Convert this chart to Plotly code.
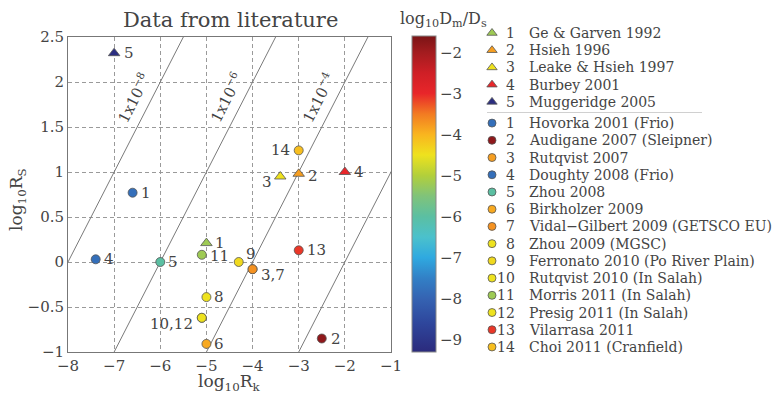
import numpy as np
import plotly.graph_objects as go

W, H = 774, 395

# ---------------- data ----------------
tri_ids = [1, 2, 3, 4, 5]
tri_names = ["Ge & Garven 1992", "Hsieh 1996", "Leake & Hsieh 1997",
             "Burbey 2001", "Muggeridge 2005"]
tri_log_rk = [-5.0, -3.0, -3.4, -2.0, -7.0]
tri_log_rs = [0.21, 0.98, 0.95, 1.0, 2.32]
tri_log_d = [-5.2, -3.8, -4.5, -3.0, -9.2]

circ_ids = list(range(1, 15))
circ_names = ["Hovorka 2001 (Frio)", "Audigane 2007 (Sleipner)", "Rutqvist 2007",
              "Doughty 2008 (Frio)", "Zhou 2008", "Birkholzer 2009",
              "Vidal\u2212Gilbert 2009 (GETSCO EU)", "Zhou 2009 (MGSC)",
              "Ferronato 2010 (Po River Plain)", "Rutqvist 2010 (In Salah)",
              "Morris 2011 (In Salah)", "Presig 2011 (In Salah)",
              "Vilarrasa 2011", "Choi 2011 (Cranfield)"]
circ_log_rk = [-6.6, -2.5, -4.0, -7.4, -6.0, -5.0, -4.0, -5.0, -4.3, -5.1, -5.1, -5.1, -3.0, -3.0]
circ_log_rs = [0.77, -0.85, -0.08, 0.03, 0.0, -0.91, -0.08, -0.39, 0.0, -0.62, 0.08, -0.62, 0.13, 1.24]
circ_log_d = [-7.8, -1.8, -3.8, -7.8, -6.0, -3.9, -3.7, -4.5, -4.4, -4.5, -5.2, -4.5, -3.1, -4.1]

# point labels (text, index into series)
tri_label_text = ["1", "2", "3", "4", "5"]
tri_label_idx = [0, 1, 2, 3, 4]
circ_label_text = ["1", "2", "3,7", "4", "5", "6", "8", "9", "10,12", "11", "13", "14"]
circ_label_idx = [0, 1, 2, 3, 4, 5, 7, 8, 9, 10, 12, 13]

# iso-lines log10(Rk/Rs) = exponent
iso_exponents = [-8, -6, -4, -2]
iso_label_exponents = [-8, -6, -4]
iso_label_rs = 1.83

x_ticks = [-8, -7, -6, -5, -4, -3, -2, -1]
cbar_ticks = [-2, -3, -4, -5, -6, -7, -8, -9]
cmin, cmax = -9.3, -1.6

# ---------------- style ----------------
FONT = "DejaVu Serif"
TXT = "#444444"

stops = [(-9.3, "#2b2a7c"), (-8.6, "#2e469c"), (-8.0, "#3563b2"), (-7.5, "#3280c6"),
         (-7.0, "#2fa9e0"), (-6.5, "#4bc1cc"), (-6.0, "#5bbfa2"), (-5.5, "#80c37a"),
         (-5.0, "#b2cf3b"), (-4.5, "#eee21e"), (-4.0, "#f9b51f"), (-3.5, "#f27b22"),
         (-3.0, "#e8262a"), (-2.5, "#cf1f26"), (-2.0, "#a31c1f"), (-1.6, "#7b1416")]
colorscale = [[(v - cmin) / (cmax - cmin), c] for v, c in stops]

tri_label_style = [dict(xanchor="left", xshift=7, yshift=0),
                   dict(xanchor="left", xshift=7, yshift=-2),
                   dict(xanchor="right", xshift=-6, yshift=-5),
                   dict(xanchor="left", xshift=7, yshift=0),
                   dict(xanchor="left", xshift=8, yshift=0)]
circ_label_style = [dict(xanchor="left", xshift=6, yshift=0),
                    dict(xanchor="left", xshift=7, yshift=0),
                    dict(xanchor="left", xshift=6, yshift=-6),
                    dict(xanchor="left", xshift=6, yshift=0),
                    dict(xanchor="left", xshift=6, yshift=0),
                    dict(xanchor="left", xshift=6, yshift=0),
                    dict(xanchor="left", xshift=6, yshift=0),
                    dict(xanchor="left", xshift=5, yshift=8),
                    dict(xanchor="right", xshift=-7, yshift=-6),
                    dict(xanchor="left", xshift=6, yshift=-1),
                    dict(xanchor="left", xshift=6, yshift=0),
                    dict(xanchor="right", xshift=-7, yshift=0)]

fig = go.Figure()

# iso lines (clipped by axes)
for e in iso_exponents:
    xs = np.array([-9.0, 0.0])
    fig.add_trace(go.Scatter(x=xs, y=xs - e, mode="lines",
                             line=dict(color="#7a7a7a", width=1), showlegend=False))

marker_common = dict(colorscale=colorscale, cmin=cmin, cmax=cmax,
                     line=dict(color="#555555", width=0.8))

fig.add_trace(go.Scatter(
    x=circ_log_rk, y=circ_log_rs, mode="markers", showlegend=False,
    marker=dict(symbol="circle", size=9, color=circ_log_d, showscale=True,
                colorbar=dict(x=412 / W, xanchor="left", xpad=0, ypad=0,
                              y=1 - 194 / H, yanchor="middle", len=316 / H, lenmode="fraction",
                              thickness=24, thicknessmode="pixels",
                              outlinecolor="#888888", outlinewidth=1,
                              tickvals=cbar_ticks, ticks="", ticklabelposition="outside",
                              tickfont=dict(family=FONT, size=15, color=TXT)),
                **marker_common)))
fig.add_trace(go.Scatter(
    x=tri_log_rk, y=tri_log_rs, mode="markers", showlegend=False,
    marker=dict(symbol="triangle-up", size=10, color=tri_log_d, showscale=False, **marker_common)))

annotations = []
for t, i, s in zip(tri_label_text, tri_label_idx, tri_label_style):
    annotations.append(dict(x=tri_log_rk[i], y=tri_log_rs[i], xref="x", yref="y", text=t,
                            showarrow=False, font=dict(family=FONT, size=15, color=TXT), **s))
for t, i, s in zip(circ_label_text, circ_label_idx, circ_label_style):
    annotations.append(dict(x=circ_log_rk[i], y=circ_log_rs[i], xref="x", yref="y", text=t,
                            showarrow=False, font=dict(family=FONT, size=15, color=TXT), **s))
for e in iso_label_exponents:
    annotations.append(dict(x=iso_label_rs + e - 0.4, y=iso_label_rs, xref="x", yref="y",
                            text="1x10<sup>\u2212%d</sup>" % (-e), textangle=-63, showarrow=False,
                            xanchor="center", yanchor="middle",
                            font=dict(family=FONT, size=15, color=TXT)))

# title, axis titles, colorbar title
centered = dict(xref="paper", yref="paper", xanchor="center", yanchor="middle", showarrow=False)
annotations.append(dict(x=230 / W, y=1 - 20 / H, text="Data from literature",
                        font=dict(family=FONT, size=21, color=TXT), **centered))
annotations.append(dict(x=229 / W, y=1 - 382 / H, text="log<sub>10</sub>R<sub>k</sub>",
                        font=dict(family=FONT, size=17, color=TXT), **centered))
annotations.append(dict(x=17 / W, y=1 - 200 / H, text="log<sub>10</sub>R<sub>S</sub>", textangle=-90,
                        font=dict(family=FONT, size=17, color=TXT), **centered))
annotations.append(dict(x=443 / W, y=1 - 19 / H, text="log<sub>10</sub>D<sub>m</sub>/D<sub>s</sub>",
                        font=dict(family=FONT, size=16, color=TXT), **centered))

# custom legend on its own pixel-scaled axis
leg_kind = ["triangle-up"] * len(tri_ids) + ["circle"] * len(circ_ids)
leg_ids = tri_ids + circ_ids
leg_names = tri_names + circ_names
leg_vals = tri_log_d + circ_log_d
leg_y = [33 + 17.22 * k + (4 if k >= len(tri_ids) else 0) for k in range(len(leg_ids))]
leg_x = 492
for sym in ["triangle-up", "circle"]:
    idx = [k for k in range(len(leg_ids)) if leg_kind[k] == sym]
    fig.add_trace(go.Scatter(
        x=[leg_x] * len(idx), y=[leg_y[k] for k in idx], xaxis="x2", yaxis="y2",
        mode="markers", showlegend=False,
        marker=dict(symbol=sym, size=9 if sym == "triangle-up" else 8,
                    color=[leg_vals[k] for k in idx], showscale=False, **marker_common)))
for k in range(len(leg_ids)):
    annotations.append(dict(x=517, y=leg_y[k], xref="x2", yref="y2", text=str(leg_ids[k]),
                            xanchor="right", yanchor="middle", showarrow=False,
                            font=dict(family=FONT, size=14, color=TXT)))
    annotations.append(dict(x=527, y=leg_y[k], xref="x2", yref="y2", text=leg_names[k],
                            xanchor="left", yanchor="middle", showarrow=False,
                            font=dict(family=FONT, size=14, color=TXT)))

sep_y = (leg_y[len(tri_ids) - 1] + leg_y[len(tri_ids)]) / 2
shapes = [dict(type="line", xref="x2", yref="y2", x0=487, x1=702, y0=sep_y, y1=sep_y,
               line=dict(color="#d0d0d0", width=1))]

axis_common = dict(showgrid=True, gridcolor="#9a9a9a", griddash="4px,3px", gridwidth=1,
                   zeroline=False, showline=True, mirror=True, linecolor="#777777", linewidth=1,
                   ticks="", automargin=False, tickfont=dict(family=FONT, size=15, color=TXT))

fig.update_layout(
    template="none",
    width=W, height=H, margin=dict(l=0, r=0, t=0, b=0, autoexpand=False),
    paper_bgcolor="white", plot_bgcolor="rgba(0,0,0,0)",
    hovermode=False, showlegend=False,
    xaxis=dict(domain=[68 / W, 391 / W], range=[-8, -1], tickvals=x_ticks, **axis_common),
    yaxis=dict(domain=[1 - 352 / H, 1 - 37 / H], range=[-1, 2.5], dtick=0.5, tick0=0, **axis_common),
    xaxis2=dict(domain=[480 / W, 1], range=[480, W], visible=False, fixedrange=True, automargin=False),
    yaxis2=dict(domain=[0, 1], range=[H, 0], visible=False, fixedrange=True, automargin=False),
    annotations=annotations, shapes=shapes,
)

fig.write_html("out.html")
